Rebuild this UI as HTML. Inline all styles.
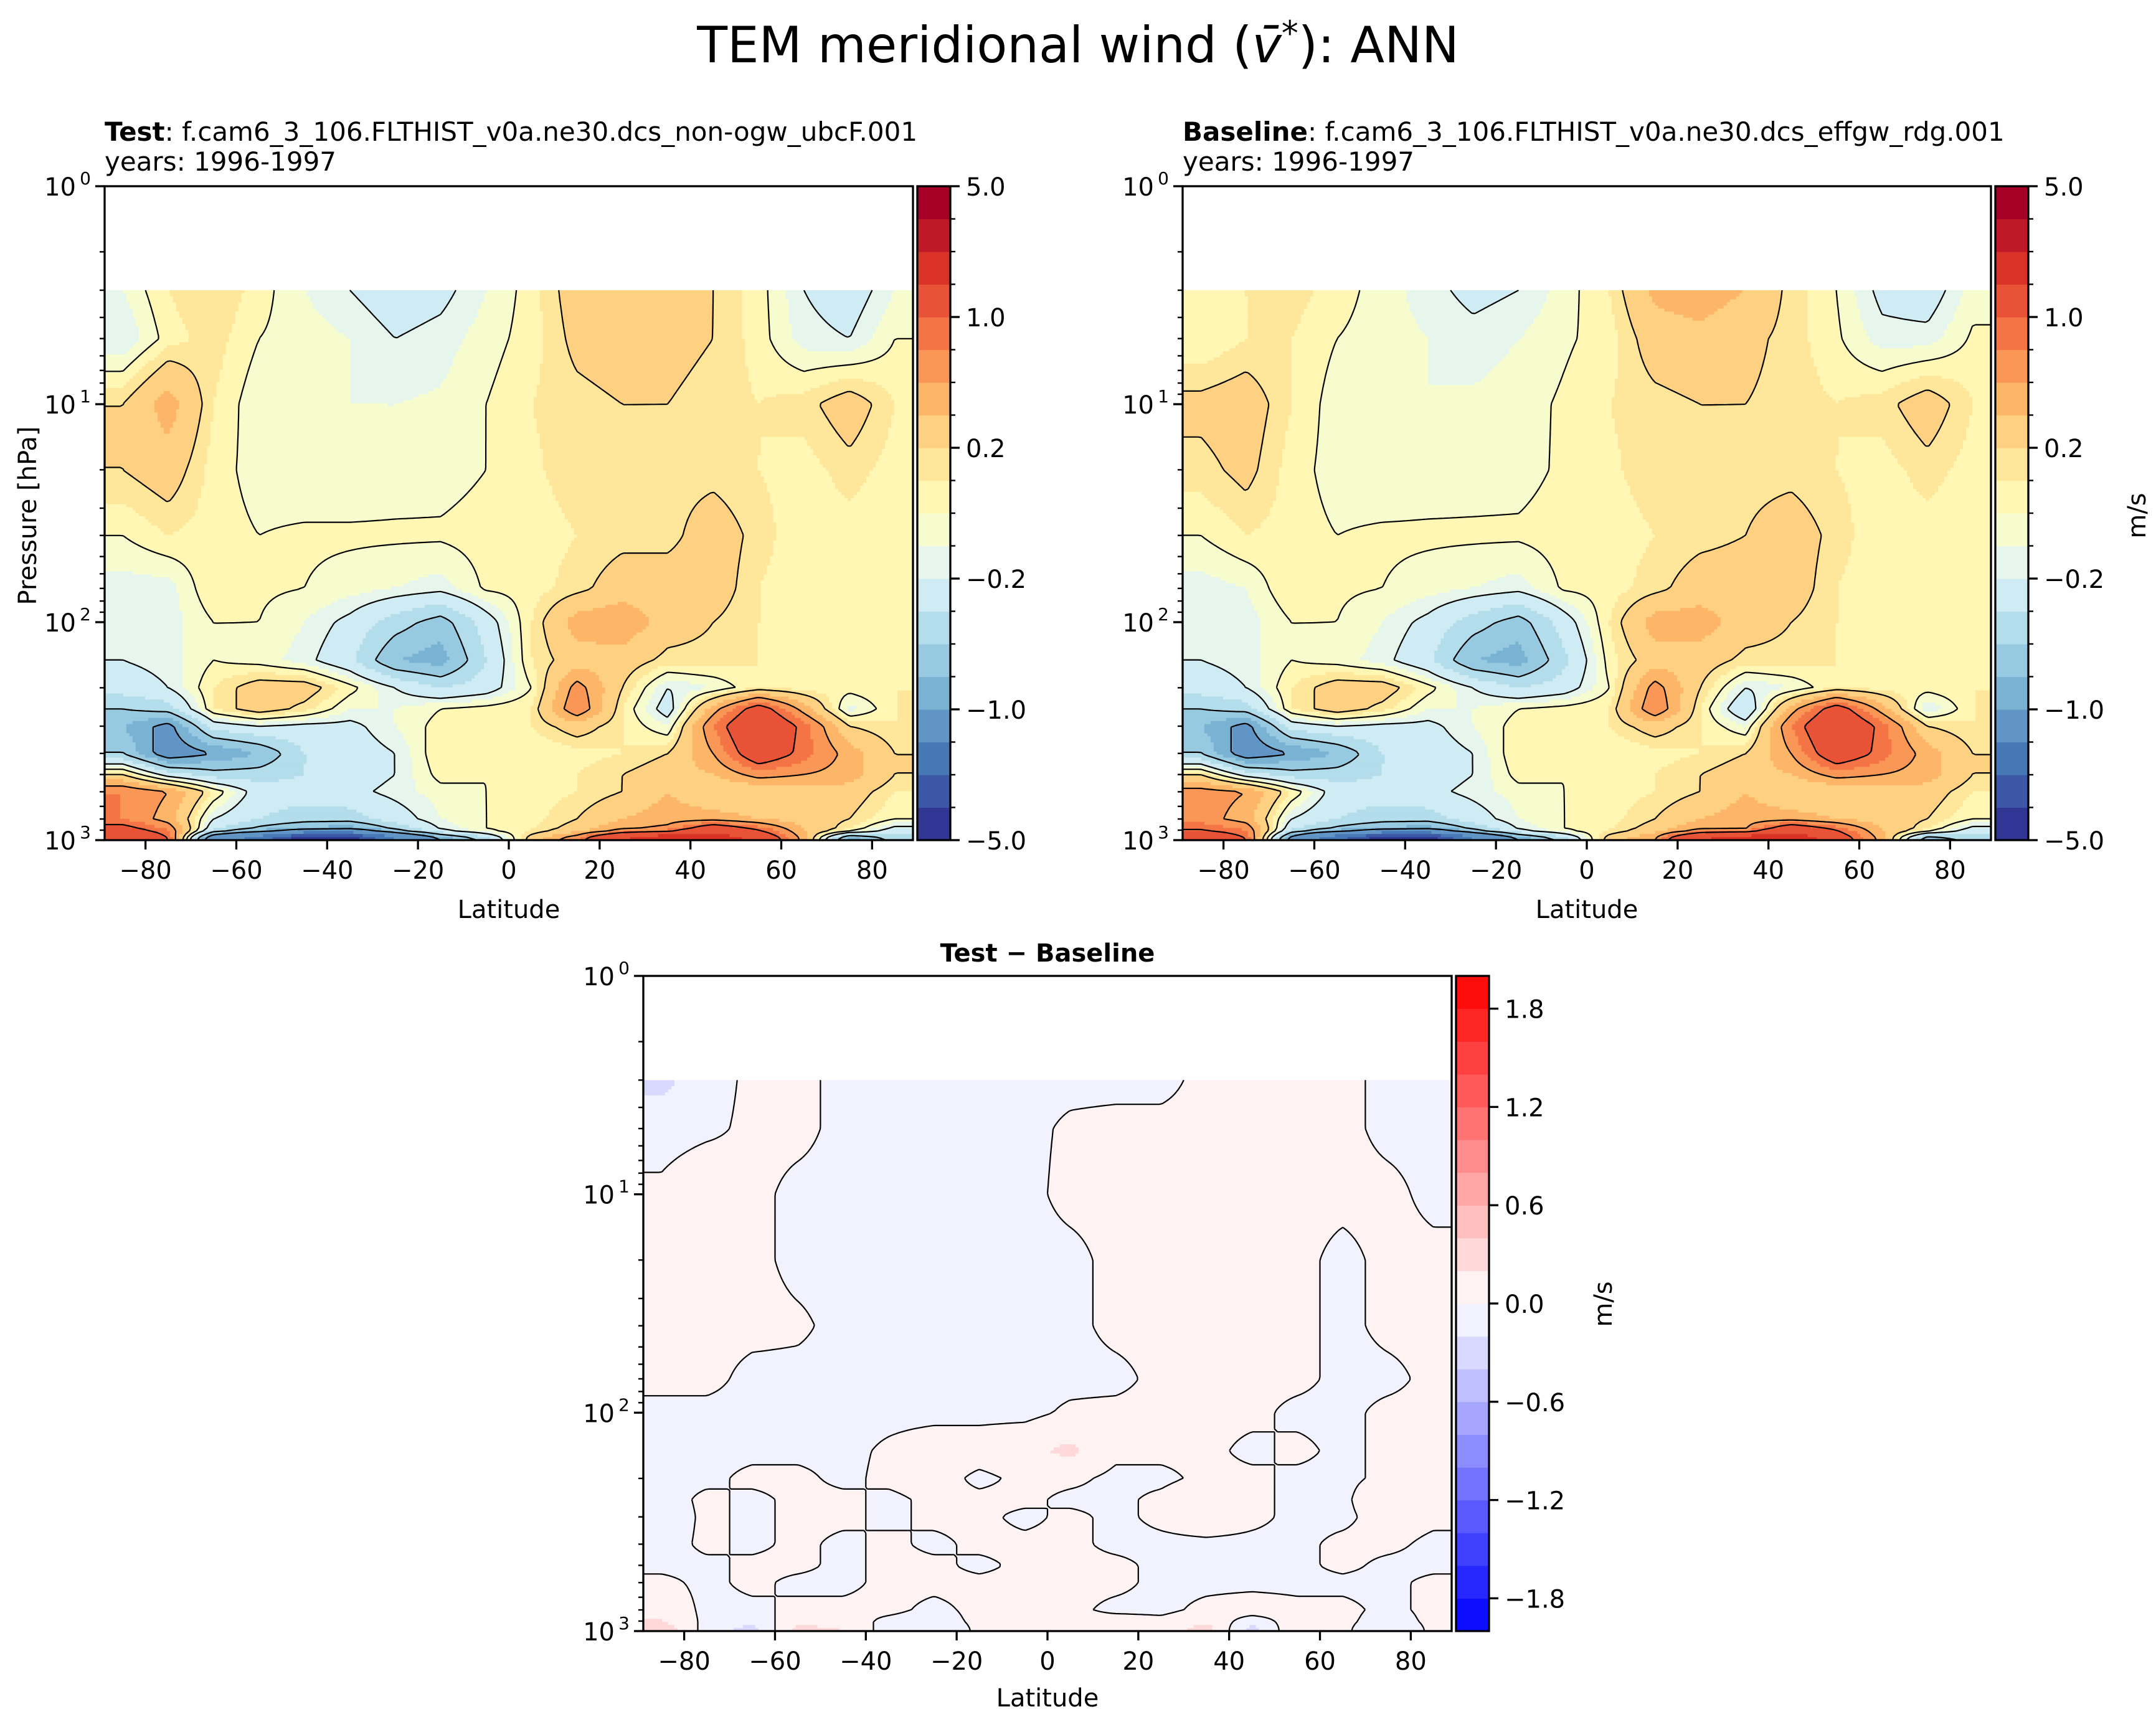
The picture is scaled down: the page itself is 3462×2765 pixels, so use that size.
<!DOCTYPE html>
<html><head><meta charset="utf-8">
<style>
html,body{margin:0;padding:0;background:#fff;}
svg{display:block;font-family:"DejaVu Sans","Liberation Sans",sans-serif;}
</style></head>
<body>
<svg id="fig" xmlns="http://www.w3.org/2000/svg" width="3462" height="2765" viewBox="0 0 3462 2765">
<rect x="0" y="0" width="3462" height="2765" fill="#fff"/>
<text x="1731" y="100" font-size="80" text-anchor="middle">TEM meridional wind (<tspan font-style="italic">v̄</tspan><tspan dy="-28" font-size="54">*</tspan><tspan dy="28">): ANN</tspan></text>
<g>
<text x="168" y="226" font-size="42"><tspan font-weight="bold">Test</tspan>: f.cam6_3_106.FLTHIST_v0a.ne30.dcs_non-ogw_ubcF.001</text>
<text x="168" y="274" font-size="42">years: 1996-1997</text>
</g>
<g>
<text x="1899" y="226" font-size="42"><tspan font-weight="bold">Baseline</tspan>: f.cam6_3_106.FLTHIST_v0a.ne30.dcs_effgw_rdg.001</text>
<text x="1899" y="274" font-size="42">years: 1996-1997</text>
</g>
<text x="1682" y="1544" font-size="40" font-weight="bold" text-anchor="middle">Test − Baseline</text>
<text transform="translate(58,828) rotate(-90)" font-size="40" text-anchor="middle">Pressure [hPa]</text>
<text x="817" y="1474" font-size="40" text-anchor="middle">Latitude</text>
<text x="2548" y="1474" font-size="40" text-anchor="middle">Latitude</text>
<text x="1682" y="2740" font-size="40" text-anchor="middle">Latitude</text>
<text transform="translate(3445,828) rotate(-90)" font-size="40" text-anchor="middle">m/s</text>
<text transform="translate(2588,2094) rotate(-90)" font-size="40" text-anchor="middle">m/s</text>
<g id="plots"></g>
</svg>
<script>
// ---- data ----
const LATS=[-85,-75,-65,-55,-45,-35,-25,-15,-5,5,15,25,35,45,55,65,75,85];
const PRESS=[3,5,10,20,40,70,100,150,200,250,300,400,500,600,800,900,985];
const TEST=[
[-0.1,0.1,0.2,0.05,-0.1,-0.2,-0.3,-0.25,-0.1,0.05,0.3,0.4,0.35,0.2,0.05,-0.2,-0.3,-0.1],
[-0.2,0.05,0.15,0.0,-0.05,-0.1,-0.2,-0.15,-0.05,0.05,0.25,0.3,0.25,0.2,0.05,-0.15,-0.2,0.0],
[0.2,0.5,0.1,-0.08,-0.1,-0.1,-0.1,-0.08,0.0,0.1,0.15,0.2,0.2,0.15,0.1,0.15,0.3,0.1],
[0.2,0.3,0.05,-0.05,-0.08,-0.08,-0.06,-0.05,0.0,0.08,0.15,0.15,0.15,0.15,0.1,0.05,0.15,0.05],
[0.0,0.1,0.05,0.0,0.02,0.02,0.02,0.02,0.05,0.05,0.1,0.15,0.15,0.3,0.15,0.02,0.05,0.0],
[-0.15,-0.15,0.1,0.02,0.0,-0.05,-0.1,-0.15,0.02,0.05,0.15,0.3,0.3,0.3,0.1,0.02,0.0,0.05],
[-0.2,-0.15,0.0,0.0,-0.1,-0.25,-0.5,-0.7,-0.3,0.1,0.5,0.55,0.3,0.2,0.1,0.05,0.05,0.05],
[-0.2,-0.15,0.0,-0.05,-0.15,-0.35,-0.8,-0.9,-0.4,0.1,0.3,0.3,0.15,0.15,0.1,0.05,0.05,0.05],
[-0.3,-0.2,0.1,0.3,0.3,0.05,-0.2,-0.4,-0.3,0.0,0.7,0.2,-0.2,-0.1,0.1,0.05,0.05,0.1],
[-0.6,-0.5,0.1,0.3,0.15,-0.1,-0.1,0.0,0.05,0.1,0.8,0.1,-0.3,0.5,1.2,0.5,-0.15,0.1],
[-0.8,-1.1,-0.3,-0.2,-0.25,-0.25,-0.1,0.05,0.05,0.1,0.3,0.1,-0.1,0.8,1.5,0.9,0.2,0.1],
[-0.6,-1.2,-1.0,-0.8,-0.4,-0.3,-0.2,0.1,0.05,0.0,0.05,0.1,0.2,0.6,1.3,0.9,0.5,0.2],
[0.2,-0.3,-0.5,-0.5,-0.4,-0.3,-0.2,0.05,0.0,0.0,0.1,0.2,0.3,0.4,0.7,0.6,0.5,0.2],
[0.8,0.6,0.1,-0.3,-0.3,-0.25,-0.15,-0.05,0.0,0.05,0.1,0.2,0.4,0.2,0.2,0.3,0.3,0.1],
[0.8,0.5,-0.2,-0.4,-0.5,-0.5,-0.3,-0.1,0.0,0.05,0.2,0.4,0.5,0.5,0.4,0.3,0.2,0.0],
[1.2,0.8,-0.4,-0.7,-0.9,-1.0,-0.6,-0.2,0.0,0.1,0.3,0.6,0.7,1.5,1.0,0.4,0.1,-0.3],
[2.0,1.0,-1.5,-2.5,-5.0,-5.0,-2.0,-1.0,-0.5,0.3,0.8,2.0,3.0,3.0,1.5,0.5,-1.0,-0.5]];
const BASE=[
[0.05,0.1,0.15,0.05,-0.05,-0.15,-0.25,-0.2,-0.05,0.1,0.45,0.5,0.4,0.15,0.0,-0.25,-0.3,-0.05],
[0.0,0.1,0.1,0.0,-0.05,-0.1,-0.15,-0.1,-0.02,0.05,0.3,0.35,0.25,0.15,0.02,-0.15,-0.15,0.02],
[0.25,0.3,0.1,-0.06,-0.1,-0.1,-0.08,-0.05,0.02,0.1,0.15,0.2,0.2,0.15,0.1,0.15,0.3,0.1],
[0.15,0.25,0.05,-0.05,-0.08,-0.06,-0.05,-0.04,0.02,0.08,0.15,0.15,0.15,0.15,0.1,0.05,0.15,0.05],
[0.0,0.1,0.05,0.0,0.02,0.02,0.02,0.02,0.05,0.05,0.1,0.15,0.2,0.3,0.15,0.02,0.05,0.0],
[-0.15,-0.1,0.1,0.02,0.0,-0.05,-0.1,-0.15,0.02,0.05,0.15,0.3,0.3,0.3,0.1,0.02,0.0,0.05],
[-0.2,-0.15,0.0,0.0,-0.1,-0.25,-0.5,-0.7,-0.3,0.1,0.5,0.5,0.3,0.2,0.1,0.05,0.05,0.05],
[-0.2,-0.15,0.0,-0.05,-0.15,-0.35,-0.8,-0.9,-0.45,0.05,0.3,0.3,0.15,0.15,0.1,0.05,0.05,0.05],
[-0.3,-0.2,0.1,0.3,0.3,0.05,-0.2,-0.4,-0.3,0.0,0.7,0.2,-0.2,-0.1,0.1,0.05,0.05,0.1],
[-0.6,-0.5,0.1,0.3,0.15,-0.1,-0.1,0.0,0.05,0.1,0.8,0.1,-0.4,0.5,1.2,0.5,-0.2,0.1],
[-0.8,-1.1,-0.3,-0.2,-0.25,-0.25,-0.1,0.05,0.05,0.1,0.3,0.1,-0.1,0.8,1.5,0.9,0.2,0.1],
[-0.6,-1.2,-1.0,-0.8,-0.4,-0.3,-0.2,0.1,0.05,0.0,0.05,0.1,0.2,0.6,1.3,0.9,0.5,0.2],
[0.2,-0.3,-0.5,-0.5,-0.4,-0.3,-0.2,0.05,0.0,0.0,0.1,0.2,0.3,0.4,0.7,0.6,0.5,0.2],
[0.7,0.6,0.1,-0.3,-0.3,-0.25,-0.15,-0.05,0.0,0.05,0.1,0.2,0.4,0.2,0.2,0.3,0.3,0.1],
[0.7,0.5,-0.2,-0.4,-0.5,-0.5,-0.3,-0.1,0.0,0.05,0.2,0.4,0.5,0.5,0.4,0.3,0.2,0.0],
[1.0,0.8,-0.4,-0.7,-0.9,-1.0,-0.6,-0.2,0.0,0.1,0.3,0.6,0.6,1.5,1.0,0.4,0.1,-0.3],
[1.6,1.0,-1.2,-2.8,-5.0,-5.0,-2.0,-1.0,-0.5,0.3,0.6,2.0,2.7,3.0,1.3,0.5,-0.8,-0.5]];
const DIFF=[
[-0.25,-0.1,0.05,0.05,-0.05,-0.05,-0.05,-0.05,-0.05,-0.05,-0.05,-0.05,0.05,0.05,0.05,0.05,-0.05,-0.05],
[-0.1,-0.05,0.05,0.05,-0.05,-0.05,-0.05,-0.05,-0.05,0.03,0.05,0.05,0.05,0.05,0.05,0.05,-0.05,-0.05],
[0.05,0.2,0.05,-0.05,-0.05,-0.05,-0.05,-0.05,-0.05,0.05,0.05,0.05,0.05,0.05,0.05,0.05,0.05,-0.05],
[0.03,0.1,0.05,-0.05,-0.05,-0.05,-0.05,-0.05,-0.05,-0.05,0.05,0.05,0.05,0.05,0.05,-0.05,0.05,0.05],
[0.05,0.05,0.05,0.03,-0.05,-0.05,-0.05,-0.05,-0.05,-0.05,0.05,0.05,0.05,0.05,0.05,-0.05,0.05,0.05],
[0.05,0.05,-0.05,-0.05,-0.05,-0.05,-0.05,-0.05,-0.05,-0.05,-0.05,0.05,0.05,0.05,0.05,-0.05,-0.05,0.05],
[-0.05,-0.05,-0.05,-0.05,-0.05,-0.05,-0.05,-0.05,-0.05,0.03,0.05,0.05,0.05,0.05,-0.05,-0.05,0.05,0.05],
[-0.05,-0.05,-0.05,-0.05,-0.05,0.03,0.1,0.1,0.15,0.25,0.05,0.05,0.05,-0.05,0.05,-0.05,0.05,0.05],
[-0.05,-0.05,0.05,0.05,-0.05,0.05,0.1,-0.05,0.05,0.05,-0.05,-0.05,0.05,0.05,-0.05,-0.05,0.05,0.05],
[-0.1,0.05,-0.05,0.05,0.05,-0.05,0.05,0.05,0.05,-0.05,-0.05,0.05,0.2,0.05,-0.05,-0.05,0.2,0.05],
[-0.15,0.05,-0.05,0.05,0.05,-0.05,0.05,0.05,-0.05,0.05,-0.05,0.05,0.15,0.05,-0.05,-0.05,0.1,0.05],
[-0.1,0.05,-0.05,0.05,-0.05,0.05,-0.05,0.05,0.05,0.05,-0.05,-0.05,-0.05,-0.05,-0.05,0.05,0.05,-0.05],
[-0.05,-0.05,0.05,0.05,-0.05,0.05,0.05,-0.05,0.05,0.05,0.05,-0.05,-0.05,-0.05,-0.05,0.05,-0.05,-0.05],
[0.05,-0.05,0.05,-0.05,-0.05,0.05,0.05,0.05,0.05,0.05,0.05,-0.05,-0.05,-0.05,-0.05,-0.05,-0.05,0.05],
[0.15,-0.05,-0.05,0.05,0.05,0.05,-0.05,0.05,0.05,0.05,-0.05,-0.05,0.05,0.1,0.05,0.05,-0.05,0.05],
[0.2,-0.05,-0.1,0.1,0.1,-0.05,-0.1,0.05,0.05,0.05,0.1,0.05,0.15,-0.1,0.1,0.05,-0.1,0.05],
[0.4,-0.1,-0.3,0.3,0.2,-0.1,-0.2,0.05,0.05,0.05,0.2,0.1,0.3,-0.3,0.2,0.05,-0.2,0.05]];
const LEVELS_FULL=[-5,-4,-3,-2,-1,-0.8,-0.6,-0.4,-0.2,-0.1,0,0.1,0.2,0.4,0.6,0.8,1,2,3,4,5];
const CBAR_TICKS_FULL=[5,1,0.2,-0.2,-1,-5];
const LEVELS_DIFF=[-2,-1.8,-1.6,-1.4,-1.2,-1,-0.8,-0.6,-0.4,-0.2,0,0.2,0.4,0.6,0.8,1,1.2,1.4,1.6,1.8,2];
const CBAR_TICKS_DIFF=[1.8,1.2,0.6,0,-0.6,-1.2,-1.8];
const CONTOURS_FULL=[-1,-0.6,-0.2,0,0.2,0.6,1];
const CONTOURS_DIFF=[0];
const XTICKS=[-80,-60,-40,-20,0,20,40,60,80];

// ---- helpers ----
const NS='http://www.w3.org/2000/svg';
function mk(tag,attrs,parent){const e=document.createElementNS(NS,tag);for(const k in attrs)e.setAttribute(k,attrs[k]);if(parent)parent.appendChild(e);return e;}
function fmt(v){const s=v.toFixed(1);return v<0?'−'+s.slice(1):s;}
const RDYLBU=['#313695','#4575b4','#74add1','#abd9e9','#e0f3f8','#ffffbf','#fee090','#fdae61','#f46d43','#d73027','#a50026'];
function hex(h){return [parseInt(h.slice(1,3),16),parseInt(h.slice(3,5),16),parseInt(h.slice(5,7),16)];}
function rdylbu(t){const n=RDYLBU.length-1;const f=Math.max(0,Math.min(1,t))*n;const i=Math.min(n-1,Math.floor(f));const a=hex(RDYLBU[i]),b=hex(RDYLBU[i+1]);const u=f-i;return 'rgb('+a.map((v,k)=>Math.round(v+(b[k]-v)*u)).join(',')+')';}
function bwr(t){let r,g,b;if(t<0.5){r=g=2*t;b=1;}else{r=1;g=b=2*(1-t);}return 'rgb('+[r,g,b].map(v=>Math.round(v*255)).join(',')+')';}
function bandColors(levels,cmap){const n=levels.length-1;const out=[];for(let i=0;i<n;i++){out.push(cmap===bwr?bwr(((levels[i]+levels[i+1])/2-levels[0])/(levels[n]-levels[0])):cmap(i/(n-1)));}return out;}
function bandOf(v,levels){const n=levels.length-1;if(v<=levels[0])return 0;if(v>=levels[n])return n-1;for(let i=0;i<n;i++){if(v<levels[i+1])return i;}return n-1;}
function sample(grid,lat,lp){
  const LP=PRESS.map(p=>Math.log10(p));
  let i=0; if(lat<=LATS[0]){i=0;lat=LATS[0];} else if(lat>=LATS[LATS.length-1]){i=LATS.length-2;lat=LATS[LATS.length-1];} else {while(LATS[i+1]<lat)i++;}
  let j=0; if(lp<=LP[0]){j=0;lp=LP[0];} else if(lp>=LP[LP.length-1]){j=LP.length-2;lp=LP[LP.length-1];} else {while(LP[j+1]<lp)j++;}
  const u=(lat-LATS[i])/(LATS[i+1]-LATS[i]), w=(lp-LP[j])/(LP[j+1]-LP[j]);
  const a=grid[j][i],b=grid[j][i+1],c=grid[j+1][i],d=grid[j+1][i+1];
  return a*(1-u)*(1-w)+b*u*(1-w)+c*(1-u)*w+d*u*w;
}

function drawPlot(cfg){
  const root=document.getElementById('plots');
  const g=mk('g',{},root);
  
  
  const X0=cfg.x,Y0=cfg.y,W=cfg.w,H=cfg.h;
  const xOf=lat=>X0+(lat+89)/178*W;
  const yOf=lp=>Y0+lp/3*H;
  const colors=bandColors(cfg.levels,cfg.cmap);
  const field=mk('g',{},g);
  
  
  const NX=260,NY=180,lpTop=Math.log10(3);
  const vals=[];
  for(let r=0;r<=NY;r++){const lp=lpTop+(3-lpTop)*r/NY;const row=[];for(let c=0;c<=NX;c++){row.push(sample(cfg.grid,-89+178*c/NX,lp));}vals.push(row);}
  for(let r=0;r<NY;r++){
    const ya=yOf(lpTop+(3-lpTop)*r/NY),yb=yOf(lpTop+(3-lpTop)*(r+1)/NY);
    let start=0,cur=-1;
    for(let c=0;c<=NX;c++){
      let b=-2;
      if(c<NX){const v=(vals[r][c]+vals[r][c+1]+vals[r+1][c]+vals[r+1][c+1])/4;b=bandOf(v,cfg.levels);}
      if(b!==cur){
        if(cur>=0){const xa=X0+W*start/NX,xb=X0+W*c/NX;const rc=mk('rect',{x:xa.toFixed(1),y:ya.toFixed(1),width:(xb-xa+0.6).toFixed(1),height:(yb-ya+0.6).toFixed(1),fill:colors[cur]},field);
          
          }
        cur=b;start=c;
      }
    }
  }
  const lines=mk('g',{},g);
  
  
  const px=c=>X0+W*c/NX, py=r=>yOf(lpTop+(3-lpTop)*r/NY);
  cfg.contours.forEach(L=>{
    let d='';
    for(let r=0;r<NY;r++)for(let c=0;c<NX;c++){
      const a=vals[r][c],b=vals[r][c+1],cc=vals[r+1][c+1],dd=vals[r+1][c];
      const pts=[];
      const cross=(v1,v2,x1,y1,x2,y2)=>{if((v1<L)!==(v2<L)){const t=(L-v1)/(v2-v1);pts.push([x1+(x2-x1)*t,y1+(y2-y1)*t]);}};
      cross(a,b,px(c),py(r),px(c+1),py(r));
      cross(b,cc,px(c+1),py(r),px(c+1),py(r+1));
      cross(dd,cc,px(c),py(r+1),px(c+1),py(r+1));
      cross(a,dd,px(c),py(r),px(c),py(r+1));
      for(let k=0;k+1<pts.length;k+=2){d+='M'+pts[k][0].toFixed(1)+' '+pts[k][1].toFixed(1)+'L'+pts[k+1][0].toFixed(1)+' '+pts[k+1][1].toFixed(1);}
    }
    if(d){const p=mk('path',{d:d,fill:'none',stroke:'#000','stroke-width':2.2},lines);
      if(L<0)p.setAttribute('stroke-dasharray','9 6');
      
      }
  });
  const fr=mk('rect',{x:X0,y:Y0,width:W,height:H,fill:'none',stroke:'#000','stroke-width':3.3},g);
  
  
  const xa=mk('g',{},g);
  
  
  XTICKS.forEach(v=>{const x=xOf(v);mk('line',{x1:x,y1:Y0+H,x2:x,y2:Y0+H+15,stroke:'#000','stroke-width':3.3},xa);
    const t=mk('text',{x:x,y:Y0+H+62,'font-size':40,'text-anchor':'middle'},xa);t.textContent=v<0?'−'+(-v):String(v);
    
    });
  const ya=mk('g',{},g);
  
  
  for(let e=0;e<=3;e++){const y=yOf(e);mk('line',{x1:X0-15,y1:y,x2:X0,y2:y,stroke:'#000','stroke-width':3.3},ya);
    const t=mk('text',{x:X0-46,y:y+15,'font-size':40,'text-anchor':'end'},ya);t.textContent='10';
    const s=mk('tspan',{x:X0-22,dy:-18,'font-size':28,'text-anchor':'end'},t);s.textContent=String(e);
    
    
    if(e<3)for(let m=2;m<=9;m++){const ym=yOf(e+Math.log10(m));mk('line',{x1:X0-8,y1:ym,x2:X0,y2:ym,stroke:'#000','stroke-width':2.4},ya);}}
  const cb=mk('g',{},g);
  
  
  const CX=cfg.cx,CW=53,n=cfg.levels.length-1;
  const cy=v=>{
    const i=cfg.levels.findIndex(l=>Math.abs(l-v)<1e-9);
    if(i>=0)return Y0+H*(n-i)/n;
    const b=bandOf(v,cfg.levels);const f=(v-cfg.levels[b])/(cfg.levels[b+1]-cfg.levels[b]);return Y0+H*(n-b-f)/n;};
  for(let i=0;i<n;i++){const r=mk('rect',{x:CX,y:(Y0+H*(n-i-1)/n).toFixed(1),width:CW,height:(H/n+0.6).toFixed(1),fill:colors[i]},cb);
    
    }
  mk('rect',{x:CX,y:Y0,width:CW,height:H,fill:'none',stroke:'#000','stroke-width':3.3},cb);
  if(cfg.minorTicks)for(let i=0;i<=n;i++){const y=Y0+H*i/n;mk('line',{x1:CX+CW,y1:y,x2:CX+CW+8,y2:y,stroke:'#000','stroke-width':2.4},cb);}
  cfg.cticks.forEach(v=>{const y=cy(v);mk('line',{x1:CX+CW,y1:y,x2:CX+CW+15,y2:y,stroke:'#000','stroke-width':3.3},cb);
    const t=mk('text',{x:CX+CW+25,y:y+15,'font-size':40},cb);t.textContent=fmt(v);
    
    });
}
drawPlot({name:'test',x:168,y:299,w:1298,h:1050,cx:1473,grid:TEST,levels:LEVELS_FULL,cmap:rdylbu,cticks:CBAR_TICKS_FULL,contours:CONTOURS_FULL,minorTicks:true});
drawPlot({name:'baseline',x:1899,y:299,w:1298,h:1050,cx:3204,grid:BASE,levels:LEVELS_FULL,cmap:rdylbu,cticks:CBAR_TICKS_FULL,contours:CONTOURS_FULL,minorTicks:true});
drawPlot({name:'diff',x:1033,y:1567,w:1298,h:1052,cx:2338,grid:DIFF,levels:LEVELS_DIFF,cmap:bwr,cticks:CBAR_TICKS_DIFF,contours:CONTOURS_DIFF,minorTicks:false});
</script>
</body></html>
